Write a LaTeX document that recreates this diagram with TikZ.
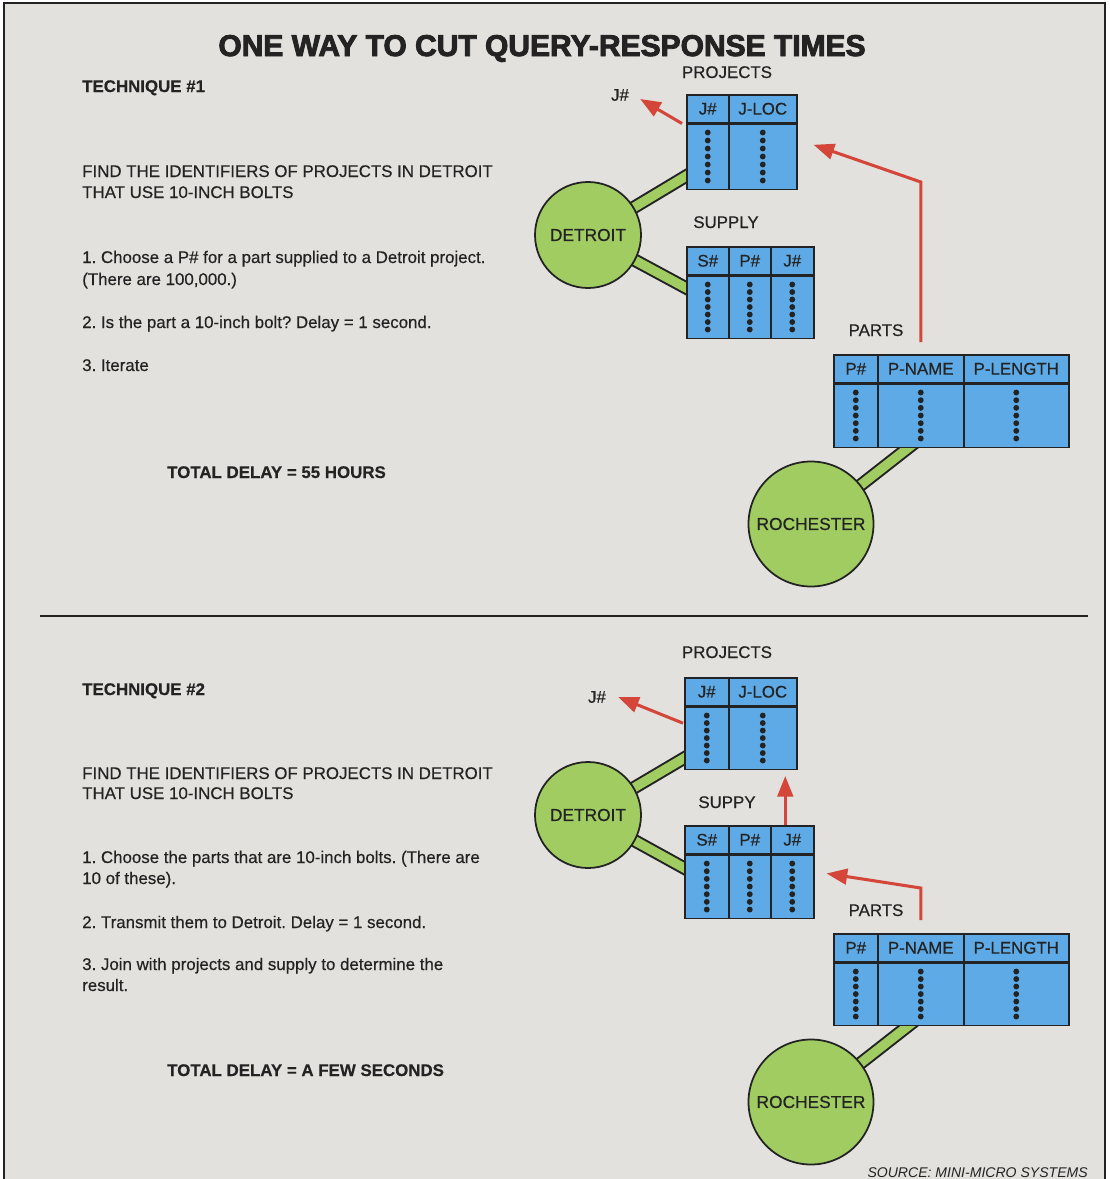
\documentclass[tikz,border=0pt]{standalone}
\usepackage{fontspec}
\setmainfont{Liberation Sans}[UprightFeatures={FakeBold=0.5}, BoldFeatures={FakeBold=0.4}]
\newfontfamily\titlefamily{Liberation Sans}[BoldFeatures={FakeBold=3}]
\usetikzlibrary{arrows.meta,calc}
\frenchspacing

\definecolor{paper}{RGB}{226,225,221}
\definecolor{ink}{RGB}{35,35,35}
\definecolor{dbblue}{RGB}{94,170,230}
\definecolor{sitegreen}{RGB}{160,204,98}
\definecolor{flowred}{RGB}{212,70,58}

\pgfdeclarelayer{back}
\pgfsetlayers{back,main}

% one column of a relation: name, x, y, width, body height, header
\newcommand{\dbcol}[6]{%
	\node[headcell, minimum width=#4*0.03cm, anchor=north west] (#1h) at (#2,#3) {#6};
	\node[bodycell, minimum width=#4*0.03cm, minimum height=#5*0.03cm, anchor=north] (#1b) at (#1h.south) {};
	\foreach \k in {0,...,6}
		\fill[ink] ($(#1b.north)+(0,{9+\k*(#5-17)/6})$) circle (0.088cm);
}

\begin{document}
\begin{tikzpicture}[x=0.03cm, y=-0.03cm,
	txt/.style={inner sep=0, anchor=base west, text=ink, font=\fontsize{14.4}{17}\selectfont},
	lab/.style={inner sep=0, anchor=base, text=ink, font=\fontsize{14.4}{17}\selectfont},
	headcell/.style={draw=ink, line width=1.3pt, fill=dbblue, inner sep=0, minimum height=0.84cm, text=ink, font=\fontsize{14.4}{17}\selectfont},
	bodycell/.style={draw=ink, line width=1.3pt, fill=dbblue, inner sep=0},
	site/.style={circle, draw=ink, line width=1.5pt, fill=sitegreen, inner sep=0, text=ink, font=\fontsize{14.8}{17}\selectfont},
	band/.style={draw=ink, line width=1.7pt, double=sitegreen, double distance=0.28cm},
	flow/.style={draw=flowred, line width=2.6pt, -{Triangle[length=0.62cm, width=0.47cm]}}]
	\useasboundingbox (0,0) rectangle (1109,1179);
	
	% Title
	\node[anchor=base, inner sep=0, text=ink, font=\titlefamily\bfseries\fontsize{25.6}{30}\selectfont] (ttl) at (542,56) {ONE WAY TO CUT QUERY-RESPONSE TIMES};
	
	% Technique 1: text
	\node[txt, font=\fontsize{14.4}{17}\selectfont\bfseries] (t1) at (82,92) {TECHNIQUE \#1};
	\node[txt] (q1a) at (82,177) {FIND THE IDENTIFIERS OF PROJECTS IN DETROIT};
	\node[txt] (q1b) at (82,198) {THAT USE 10-INCH BOLTS};
	\node[txt] (s1a) at (82,263) {1. Choose a P\# for a part supplied to a Detroit project.};
	\node[txt] (s1b) at (82,285) {(There are 100,000.)};
	\node[txt] (s1c) at (82,328) {2. Is the part a 10-inch bolt? Delay = 1 second.};
	\node[txt] (s1d) at (82,371) {3. Iterate};
	\node[txt, font=\fontsize{14.4}{17}\selectfont\bfseries] (d1) at (167,478) {TOTAL DELAY = 55 HOURS};
	
	% Technique 1: sites and relations
	\node[site, minimum size=3.18cm] (det1) at (588,235) {DETROIT};
	\node[site, minimum size=3.75cm] (roc1) at (811,524) {ROCHESTER};
	\node[lab] (prj1) at (727,78) {PROJECTS};
	\node[lab] (sup1) at (726,228) {SUPPLY};
	\node[lab] (par1) at (876,336) {PARTS};
	\node[inner sep=0, text=ink, font=\fontsize{14.4}{17}\selectfont] (j1) at (620,95) {J\#};
	\dbcol{p1j}{686}{94}{42}{65}{J\#}
	\dbcol{p1l}{728}{94}{68}{65}{J-LOC}
	\dbcol{s1s}{686}{246}{42}{62}{S\#}
	\dbcol{s1p}{728}{246}{42}{62}{P\#}
	\dbcol{s1j}{770}{246}{43}{62}{J\#}
	\dbcol{r1p}{833}{354}{44}{63}{P\#}
	\dbcol{r1n}{877}{354}{86}{63}{P-NAME}
	\dbcol{r1l}{963}{354}{105}{63}{P-LENGTH}
	\draw[flow] ([xshift=-0.12cm]p1jb.north west) -- ([xshift=0.33cm,yshift=-0.12cm]j1.east);
	\draw[flow] ([yshift=0.36cm]r1nh.north) -- ++(0,-160) -- ([xshift=0.48cm,yshift=0.36cm]p1lb.east);
	
	% Separator
	\draw[ink, line width=1.3pt] (40,616) -- (1088,616);
	
	% Technique 2: text
	\node[txt, font=\fontsize{14.4}{17}\selectfont\bfseries] (t2) at (82,695) {TECHNIQUE \#2};
	\node[txt] (q2a) at (82,779) {FIND THE IDENTIFIERS OF PROJECTS IN DETROIT};
	\node[txt] (q2b) at (82,799) {THAT USE 10-INCH BOLTS};
	\node[txt] (s2a) at (82,863) {1. Choose the parts that are 10-inch bolts. (There are};
	\node[txt] (s2b) at (82,884) {10 of these).};
	\node[txt] (s2c) at (82,928) {2. Transmit them to Detroit. Delay = 1 second.};
	\node[txt] (s2d) at (82,970) {3. Join with projects and supply to determine the};
	\node[txt] (s2e) at (82,991) {result.};
	\node[txt, font=\fontsize{14.4}{17}\selectfont\bfseries] (d2) at (167,1076) {TOTAL DELAY = A FEW SECONDS};
	
	% Technique 2: sites and relations
	\node[site, minimum size=3.18cm] (det2) at (588,815) {DETROIT};
	\node[site, minimum size=3.75cm] (roc2) at (811,1102) {ROCHESTER};
	\node[lab] (prj2) at (727,658) {PROJECTS};
	\node[lab] (sup2) at (727,808) {SUPPY};
	\node[lab] (par2) at (876,916) {PARTS};
	\node[inner sep=0, text=ink, font=\fontsize{14.4}{17}\selectfont] (j2) at (597,697) {J\#};
	\dbcol{p2j}{684}{677}{44}{62}{J\#}
	\dbcol{p2l}{728}{677}{68}{62}{J-LOC}
	\dbcol{s2s}{684}{825}{44}{63}{S\#}
	\dbcol{s2p}{728}{825}{42}{63}{P\#}
	\dbcol{s2j}{770}{825}{43}{63}{J\#}
	\dbcol{r2p}{833}{933}{44}{62}{P\#}
	\dbcol{r2n}{877}{933}{86}{62}{P-NAME}
	\dbcol{r2l}{963}{933}{105}{62}{P-LENGTH}
	\draw[flow] ([xshift=-0.03cm,yshift=-0.5cm]p2jb.north west) -- ([xshift=0.36cm]j2.east);
	\draw[flow] ($(s2jh.north)+(-7,0)$) -- ($(s2jh.north |- p2lb.south)+(-7,6)$);
	\draw[flow] ([yshift=0.39cm]r2nh.north) -- ++(0,-32) -- ([xshift=0.36cm,yshift=0.4cm]s2jb.east);
	
	% Source
	\node[inner sep=0, anchor=base east, text=ink, font=\fontsize{12}{14}\selectfont\itshape] (src) at (1088,1177) {SOURCE: MINI-MICRO SYSTEMS};
	
	% Paper, frame and links (behind)
	\begin{pgfonlayer}{back}
		\fill[white] (0,0) rectangle (1109,1179);
		\fill[paper] (4,3) rectangle (1105,1185);
		\draw[ink, line width=1.2pt] (4,1185) -- (4,3) -- (1105,3) -- (1105,1185);
		\draw[band] (det1.center) -- ([xshift=0.3cm,yshift=-0.4cm]p1jb.west);
		\draw[band] (det1.center) -- ([xshift=0.3cm,yshift=0.42cm]s1sb.west);
		\draw[band] (roc1.center) -- ([yshift=0.3cm]r1nb.south);
		\draw[band] (det2.center) -- ([xshift=0.3cm,yshift=-0.42cm]p2jb.west);
		\draw[band] (det2.center) -- ([xshift=0.3cm,yshift=0.4cm]s2sb.west);
		\draw[band] (roc2.center) -- ([yshift=0.3cm]r2nb.south);
	\end{pgfonlayer}
\end{tikzpicture}
\end{document}
